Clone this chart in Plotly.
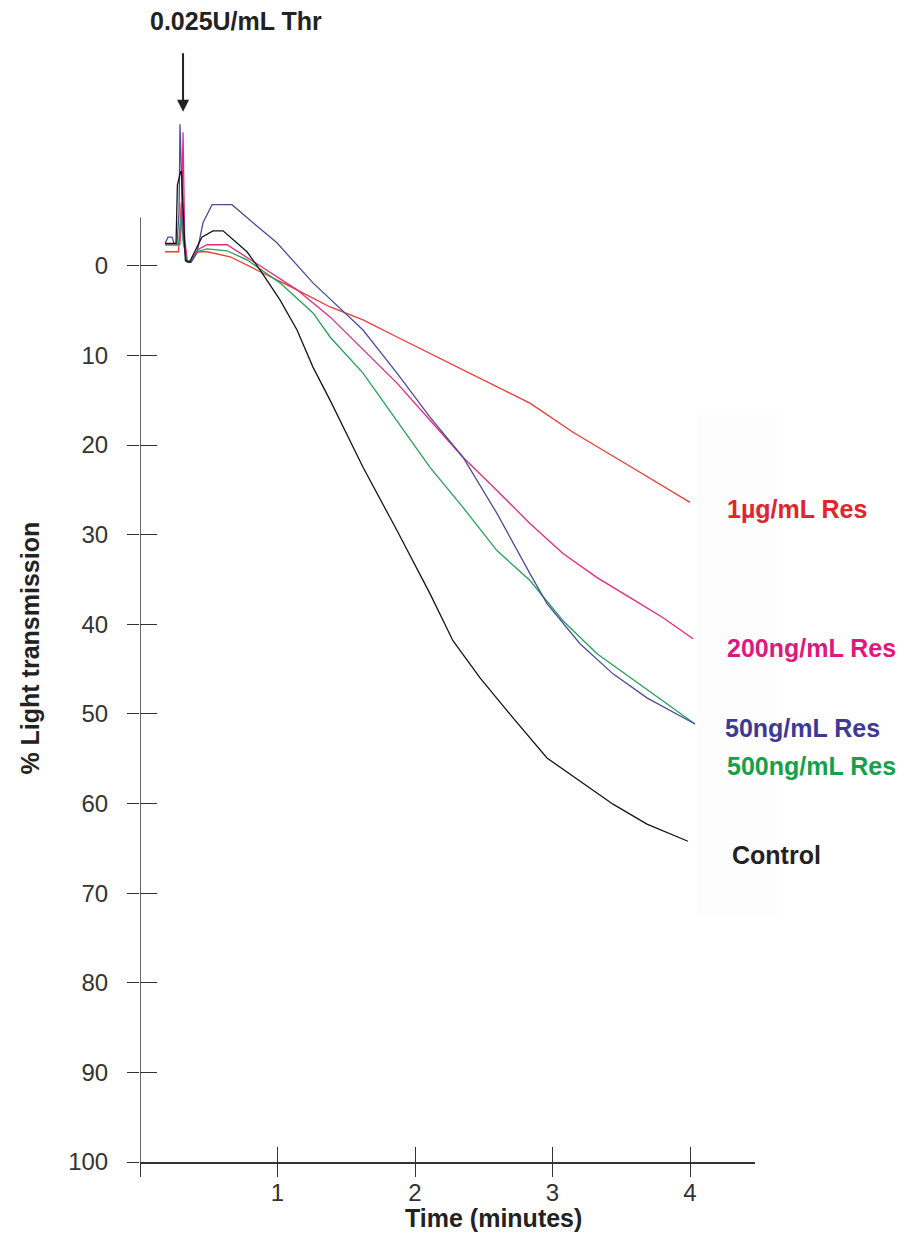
import plotly.graph_objects as go

# ---- data (time in minutes, % light transmission; axis reversed) ----
control_t = [0.182, 0.262, 0.272, 0.295, 0.302, 0.33, 0.36, 0.40, 0.45, 0.531, 0.604, 0.778, 0.873, 1.018,
             1.142, 1.258, 1.382, 1.622, 1.869, 2.109, 2.276, 2.473, 2.713, 2.96, 3.2, 3.44, 3.687, 3.985]
control_v = [-2.5, -2.5, -9.0, -10.5, -10.5, -0.6, -0.4, -1.6, -3.2, -3.9, -3.9, -1.57, 0.45, 3.8,
             7.16, 11.3, 14.99, 22.48, 29.53, 36.58, 41.83, 45.97, 50.45, 54.92, 57.49, 60.07, 62.3, 64.21]

res50_t = [0.182, 0.204, 0.233, 0.247, 0.269, 0.284, 0.291, 0.313, 0.335, 0.371, 0.415, 0.458, 0.524, 0.669,
           0.822, 0.996, 1.258, 1.455, 1.622, 1.869, 2.109, 2.349, 2.596, 2.836, 2.96, 3.2, 3.44, 3.687, 4.036]
res50_v = [-2.5, -3.2, -3.2, -2.5, -2.5, -6.0, -15.8, -4.0, -0.5, -0.4, -1.5, -4.8, -6.82, -6.82,
           -4.81, -2.57, 1.9, 4.7, 7.16, 11.97, 16.89, 21.36, 27.63, 34.34, 37.7, 42.17, 45.53, 48.21, 51.12]

res200_t = [0.182, 0.29, 0.302, 0.313, 0.325, 0.345, 0.37, 0.42, 0.487, 0.633, 0.895, 1.142, 1.382, 1.622,
            1.869, 2.109, 2.349, 2.596, 2.836, 3.076, 3.324, 3.564, 3.804, 4.022]
res200_v = [-2.4, -2.4, -5.0, -14.9, -3.0, -0.5, -0.4, -1.8, -2.35, -2.35, 0.22, 2.68, 5.7, 9.4,
            13.09, 17.23, 21.36, 25.06, 28.75, 32.1, 34.79, 37.02, 39.26, 41.61]

res500_t = [0.182, 0.28, 0.29, 0.30, 0.315, 0.345, 0.37, 0.42, 0.487, 0.633, 0.778, 1.018, 1.258, 1.382,
            1.622, 1.869, 2.109, 2.349, 2.596, 2.836, 3.076, 3.324, 3.564, 3.804, 4.036]
res500_v = [-2.3, -2.3, -4.0, -5.5, -2.5, -0.4, -0.4, -1.6, -1.9, -1.68, -0.67, 1.9, 5.26, 7.94,
            11.97, 17.23, 22.48, 26.96, 31.77, 35.12, 39.6, 43.29, 45.97, 48.55, 51.12]

res1000_t = [0.182, 0.28, 0.29, 0.30, 0.315, 0.34, 0.37, 0.41, 0.436, 0.487, 0.655, 0.895, 1.142, 1.382,
             1.622, 1.869, 2.349, 2.836, 3.149, 3.396, 3.636, 4.0]
res1000_v = [-1.57, -1.57, -4.0, -7.0, -3.0, -0.5, -0.6, -1.5, -1.57, -1.57, -1.01, 0.78, 2.68, 4.59,
             6.04, 7.94, 11.63, 15.32, 18.57, 20.81, 23.04, 26.4]

series_names = ["1µg/mL Res", "200ng/mL Res", "500ng/mL Res", "50ng/mL Res", "Control"]
label_x = [4.255, 4.255, 4.255, 4.24, 4.29]
label_y = [27.1, 42.7, 55.8, 51.6, 65.7]
y_ticks = [0, 10, 20, 30, 40, 50, 60, 70, 80, 90, 100]
x_ticks = [0, 1, 2, 3, 4]
x_ticktext = ["", "1", "2", "3", "4"]

line_colors = ["#EE3A33", "#E8287F", "#22A356", "#4C4C9E", "#151515"]
text_colors = ["#E3242B", "#E0187E", "#15A04A", "#3E3A94", "#222222"]

FONT = "Liberation Sans, Arial, sans-serif"
AX = "#333333"

fig = go.Figure()
data = [(res1000_t, res1000_v), (res200_t, res200_v), (res500_t, res500_v), (res50_t, res50_v),
        (control_t, control_v)]
for (t, v), name, col in zip(data, series_names, line_colors):
    fig.add_trace(go.Scatter(x=t, y=v, mode="lines", name=name,
                             line=dict(color=col, width=1.3), hoverinfo="skip"))

# dummy trace to render the overlay axes (inside half of crossing ticks)
fig.add_trace(go.Scatter(x=[None], y=[None], xaxis="x2", yaxis="y2", showlegend=False))

x_range = [0, 4.4727]
y_range = [100, -17.5]

# page body has an 8px default margin, so the figure is 8px smaller and margins compensate
fig.update_layout(
    width=896, height=1229,
    margin=dict(l=132, r=149, t=101, b=75),
    plot_bgcolor="white", paper_bgcolor="white",
    showlegend=False,
    font=dict(family=FONT, color=AX),
    xaxis=dict(range=x_range, tickvals=x_ticks, ticktext=x_ticktext, ticks="outside", ticklen=13,
               tickwidth=1.3, tickcolor=AX, showline=True, linecolor=AX, linewidth=1.5,
               showgrid=False, zeroline=False, tickfont=dict(size=24, color=AX, family=FONT),
               ticklabelstandoff=-5),
    yaxis=dict(range=y_range, tickvals=y_ticks, ticks="outside", ticklen=12, tickwidth=1.3,
               tickcolor=AX, showline=False, showgrid=False, zeroline=False,
               tickfont=dict(size=24, color=AX, family=FONT), ticklabelstandoff=14),
    xaxis2=dict(range=x_range, overlaying="x", anchor="y2", side="bottom", tickvals=x_ticks,
                ticks="inside", ticklen=15, tickwidth=1.3, tickcolor=AX, showticklabels=False,
                showline=False, showgrid=False, zeroline=False),
    yaxis2=dict(range=y_range, overlaying="y", anchor="x2", side="left", tickvals=y_ticks,
                ticks="inside", ticklen=17, tickwidth=1.3, tickcolor=AX, showticklabels=False,
                showline=False, showgrid=False, zeroline=False),
)

# barely visible background panel behind the labels
fig.add_shape(type="rect", xref="paper", yref="y", x0=0.906, x1=1.036, y0=16.1, y1=72.6,
              fillcolor="#FDFDFE", line=dict(width=0), layer="below")
# y axis line (stops just above 0)
fig.add_shape(type="line", xref="x", yref="y", x0=0, x1=0, y0=-5.4, y1=100,
              line=dict(color=AX, width=1.5))

for name, x, y, c in zip(series_names, label_x, label_y, text_colors):
    fig.add_annotation(x=x, y=y, xref="x", yref="y", text=f"<b>{name}</b>", showarrow=False,
                       xanchor="left", yanchor="middle", font=dict(size=25, color=c, family=FONT))

fig.add_annotation(xref="paper", yref="paper", x=-0.1789, y=0.4885, text="<b>% Light transmission</b>",
                   textangle=-90, showarrow=False, xanchor="center", yanchor="middle",
                   font=dict(size=25, color="#222222", family=FONT))
fig.add_annotation(xref="paper", yref="paper", x=0.574, y=-0.0534, text="<b>Time (minutes)</b>",
                   showarrow=False, xanchor="center", yanchor="middle",
                   font=dict(size=25, color="#222222", family=FONT))
fig.add_annotation(xref="paper", yref="paper", x=0.156, y=1.0835, text="<b>0.025U/mL Thr</b>",
                   showarrow=False, xanchor="center", yanchor="middle",
                   font=dict(size=25, color="#222222", family=FONT))
fig.add_annotation(xref="x", yref="y", x=0.313, y=-17.2, text="", showarrow=True,
                   ax=0, ay=-60, arrowhead=2, arrowsize=1.2, arrowwidth=2, arrowcolor="#222222")

fig.write_html("out.html")
